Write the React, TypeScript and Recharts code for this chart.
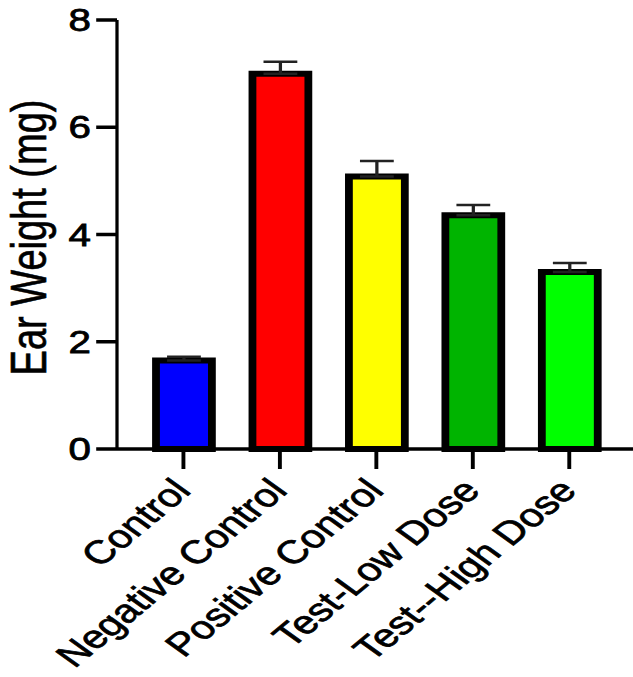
import React from 'react';
import { BarChart, Bar, XAxis, YAxis, Cell, ErrorBar } from 'recharts';

const categories = ['Control', 'Negative Control', 'Positive Control', 'Test-Low Dose', 'Test--High Dose'];
const means = [1.65, 7.0, 5.08, 4.36, 3.3];
const sem = [0.07, 0.22, 0.29, 0.19, 0.17];
const barColors = ['#0000ff', '#ff0000', '#ffff00', '#00b400', '#00ff00'];
const yTicks = [0, 2, 4, 6, 8];

const data = categories.map((name, i) => ({
  name,
  mean: means[i],
  err: [0, sem[i]],
}));

// the source image is stretched horizontally, so draw narrow and scale x
const STRETCH = 1.3;
const WIDTH = 487;
const HEIGHT = 677;
const FONT = '"Liberation Sans", Arial, sans-serif';

function XTick({ x, y, payload }: any) {
  const ax = x + 7;
  const ay = y + 21;
  return (
    <text
      x={ax}
      y={ay}
      transform={`rotate(-47, ${ax}, ${ay})`}
      textAnchor="end"
      fontFamily={FONT}
      fontSize={32.5}
      fill="#000"
      stroke="#000"
      strokeWidth={0.7}
    >
      {payload.value}
    </text>
  );
}

function YLabel({ viewBox }: any) {
  const cx = viewBox.x + 22;
  const cy = viewBox.y + viewBox.height / 2 + 3;
  return (
    <text
      x={cx}
      y={cy}
      transform={`rotate(-90, ${cx}, ${cy})`}
      textAnchor="middle"
      dominantBaseline="central"
      fontFamily={FONT}
      fontSize={38}
      fill="#000"
      stroke="#000"
      strokeWidth={0.5}
    >
      Ear Weight (mg)
    </text>
  );
}

export default function App() {
  return (
    <div
      style={{
        position: 'absolute',
        left: 0,
        top: 0,
        width: WIDTH,
        height: HEIGHT,
        background: '#fff',
        transform: `scaleX(${STRETCH})`,
        transformOrigin: '0 0',
      }}
    >
      <BarChart width={WIDTH} height={HEIGHT} data={data} margin={{ top: 20, right: 0, left: 0, bottom: 0 }}>
        <XAxis
          dataKey="name"
          interval={0}
          height={228}
          padding={{ left: 14, right: 12 }}
          axisLine={{ stroke: '#000', strokeWidth: 3.5 }}
          tickLine={{ stroke: '#000', strokeWidth: 3 }}
          tickSize={20}
          tick={<XTick />}
        />
        <YAxis
          domain={[0, 8]}
          ticks={yTicks}
          width={90}
          axisLine={{ stroke: '#000', strokeWidth: 2.5 }}
          tickLine={{ stroke: '#000', strokeWidth: 3.5 }}
          tickSize={16}
          tickMargin={4}
          tick={{ fill: '#000', stroke: '#000', strokeWidth: 0.8, fontSize: 31, fontFamily: FONT }}
          label={<YLabel />}
        />
        <Bar dataKey="mean" barSize={43} stroke="#000" strokeWidth={6} isAnimationActive={false}>
          {data.map((d, i) => (
            <Cell key={d.name} fill={barColors[i]} />
          ))}
          <ErrorBar dataKey="err" direction="y" width={13} stroke="#222" strokeWidth={2.5} isAnimationActive={false} />
        </Bar>
      </BarChart>
    </div>
  );
}
